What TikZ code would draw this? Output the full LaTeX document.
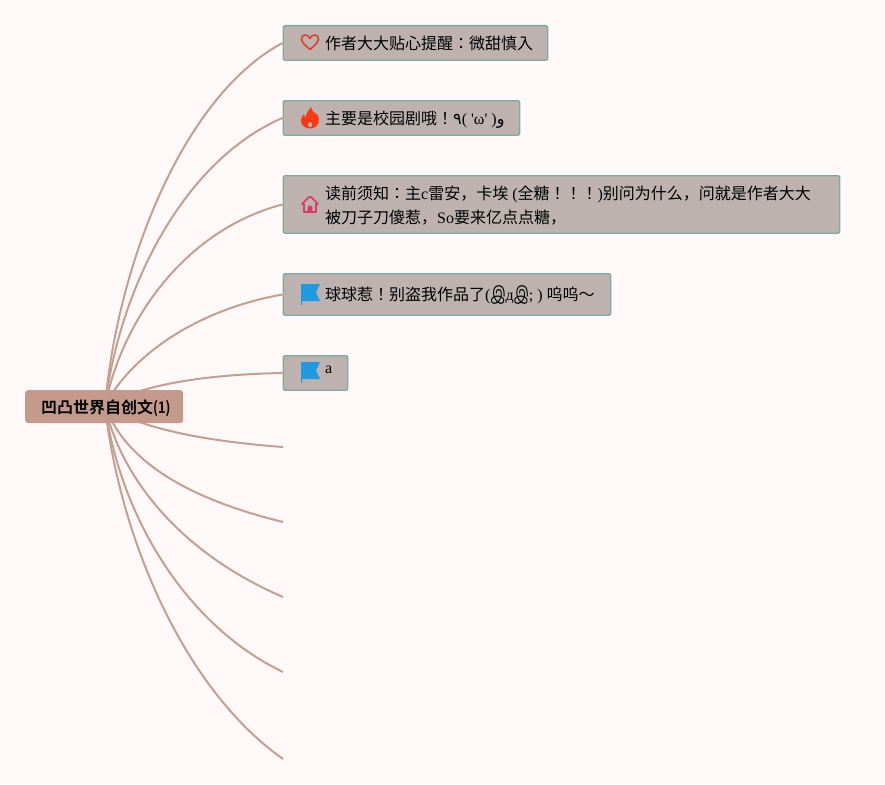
\documentclass[tikz,border=0pt]{standalone}
\usepackage{fontspec}
\setmainfont{Liberation Serif}
\newfontfamily\serf{Liberation Serif}
\newfontfamily\cjkf{Noto Sans CJK JP}
\newfontfamily\cjkb{Noto Sans CJK SC Bold}
\newfontfamily\narrowb[FakeStretch=0.8]{Noto Sans CJK SC Bold}
\newfontfamily\arabf{DejaVu Sans}
\newfontfamily\tamf[Script=Tamil,FakeStretch=0.72]{Hind Madurai}
\newcommand{\lat}[1]{{\serf #1}}
\newcommand{\tamg}{{\tamf\fontsize{19pt}{24pt}\selectfont இ}}
\usetikzlibrary{backgrounds}
\definecolor{pagebg}{HTML}{FFFAF9}
\definecolor{boxfill}{HTML}{BDB2AF}
\definecolor{boxline}{HTML}{82A99E}
\definecolor{rootfill}{HTML}{C49A8C}
\definecolor{edgecol}{HTML}{C49F94}
\definecolor{heartcol}{HTML}{D9412B}
\definecolor{flamecol}{HTML}{FB3A14}
\definecolor{housecol}{HTML}{D93A68}
\definecolor{flagcol}{HTML}{1E9BE0}
% #1 = baseline below box centre, #2 = box width, #3 = content
\newcommand{\boxtxt}[3][6.5]{\makebox[#2pt][l]{\hspace*{42pt}\smash{\raisebox{-#1pt}{#3}}}}
\newcommand{\roottxt}[1]{\makebox[158pt][l]{\hspace*{16pt}\smash{\raisebox{-6.5pt}{#1}}}}
\tikzset{
  x=1pt,y=-1pt,
  topic/.style={draw=boxline,line width=1.4pt,fill=boxfill,rounded corners=2pt,inner sep=0pt,anchor=north west,font=\fontsize{16pt}{24pt}\selectfont\cjkf,text=black},
  root/.style={fill=rootfill,rounded corners=3pt,inner sep=0pt,anchor=north west,font=\fontsize{16pt}{20pt}\selectfont\cjkb,minimum width=158pt,minimum height=33pt,text=black},
  branch/.style={draw=edgecol,line width=2pt},
  pics/hearticon/.style={code={
    \draw[heartcol,line width=1.6pt,line join=round] (0,7.5) .. controls (-3,4.5) and (-8.5,1) .. (-8.5,-3) .. controls (-8.5,-8) and (-2,-8.5) .. (0,-3.5) .. controls (2,-8.5) and (8.5,-8) .. (8.5,-3) .. controls (8.5,1) and (3,4.5) .. (0,7.5) -- cycle;}},
  pics/flameicon/.style={code={
    \fill[flamecol,even odd rule] (1,-11) .. controls (2,-6) and (5,-6) .. (6,-4) .. controls (7,-3) and (7,-2) .. (6.5,-4.5)
      .. controls (9,-1) and (9.5,2) .. (8.5,5) .. controls (7,9) and (3,10.5) .. (0,10.5)
      .. controls (-4,10.5) and (-8,8) .. (-9,4) .. controls (-9.5,0) and (-7,-3) .. (-6,-3.5)
      .. controls (-6,-2) and (-5.5,-1) .. (-4.5,0) .. controls (-4,-5) and (-1,-8) .. (1,-11) -- cycle
      (0,3.5) .. controls (-2,5) and (-2.6,7) .. (-1.6,8.5) .. controls (-0.6,9.3) and (1.4,9.3) .. (2.2,8.3) .. controls (2.8,6.5) and (1.8,5) .. (0,3.5) -- cycle;}},
  pics/houseicon/.style={code={
    \draw[housecol,line width=1.6pt,line join=round] (-8,-1) -- (-1,-8) .. controls (-0.4,-8.6) and (0.4,-8.6) .. (1,-8) -- (8,-1) -- (6,-1) -- (6,7) -- (-6,7) -- (-6,-1) -- cycle;
    \fill[housecol] (-2.4,7) -- (-2.4,2.5) .. controls (-2.4,0) and (2.4,0) .. (2.4,2.5) -- (2.4,7) -- cycle;}},
  pics/flagicon/.style={code={
    \fill[flagcol] (0,0) -- (19,0) -- (15,8.5) -- (19,17) -- (1.2,17) -- (1.2,21) -- (0,21) -- cycle;}},
}
\begin{document}
\begin{tikzpicture}
\useasboundingbox (0,0) rectangle (885,784);

\node[topic,minimum width=264.5pt,minimum height=34.5pt] (t1) at (282.5,25) {\boxtxt{264.5}{作者大大贴心提醒：微甜慎入}};
\node[topic,minimum width=236.5pt,minimum height=34.5pt] (t2) at (282.5,100) {\boxtxt{236.5}{主要是校园剧哦！{\arabf ٩}\lat{( 'ω' )}{\arabf و}}};
\node[topic,minimum width=556.5pt,minimum height=57.5pt] (t3) at (282.5,175) {\boxtxt[-4.5]{556.5}{\begin{tabular}[t]{@{}l@{}}读前须知：主\lat{c}雷安，卡埃\lat{ (}全糖！！！\lat{)}别问为什么，问就是作者大大\\[0pt]被刀子刀傻惹，\lat{So}要来亿点点糖，\end{tabular}}};
\node[topic,minimum width=327.5pt,minimum height=41.5pt] (t4) at (282.5,273) {\boxtxt[6]{327.5}{球球惹！别盗我作品了\lat{(}\tamg\lat{д}\tamg\lat{; ) }呜呜～}};
\node[topic,minimum width=64.5pt,minimum height=34.5pt] (t5) at (282.5,355) {\boxtxt[0.5]{64.5}{\lat{a}}};
\node[root] (rt) at (25,390) {\roottxt{凹凸世界自创文{\narrowb (1)}}};

\coordinate (hub) at (105,406);
\coordinate (e6) at (283,447);
\coordinate (e7) at (283,522);
\coordinate (e8) at (283,597);
\coordinate (e9) at (283,672);
\coordinate (e10) at (283,759);

\begin{pgfonlayer}{background}
\fill[pagebg] (0,0) rectangle (885,784);
\draw[branch] (hub) .. controls (118,260) and (185,95) .. (t1.west);
\draw[branch] (hub) .. controls (120,285) and (185,160) .. (t2.west);
\draw[branch] (hub) .. controls (122,320) and (185,230) .. (t3.west);
\draw[branch] (hub) .. controls (125,365) and (185,312) .. (t4.west);
\draw[branch] (hub) .. controls (135,388) and (190,375) .. (t5.west);
\draw[branch] (hub) .. controls (135,425) and (190,440) .. (e6);
\draw[branch] (hub) .. controls (125,460) and (185,498) .. (e7);
\draw[branch] (hub) .. controls (122,482) and (185,555) .. (e8);
\draw[branch] (hub) .. controls (120,515) and (185,625) .. (e9);
\draw[branch] (hub) .. controls (120,540) and (185,690) .. (e10);
\end{pgfonlayer}

\pic at (310,42) {hearticon};
\pic at (310,118) {flameicon};
\pic at (310,205) {houseicon};
\pic at (301,284) {flagicon};
\pic at (301,362) {flagicon};
\end{tikzpicture}
\end{document}
